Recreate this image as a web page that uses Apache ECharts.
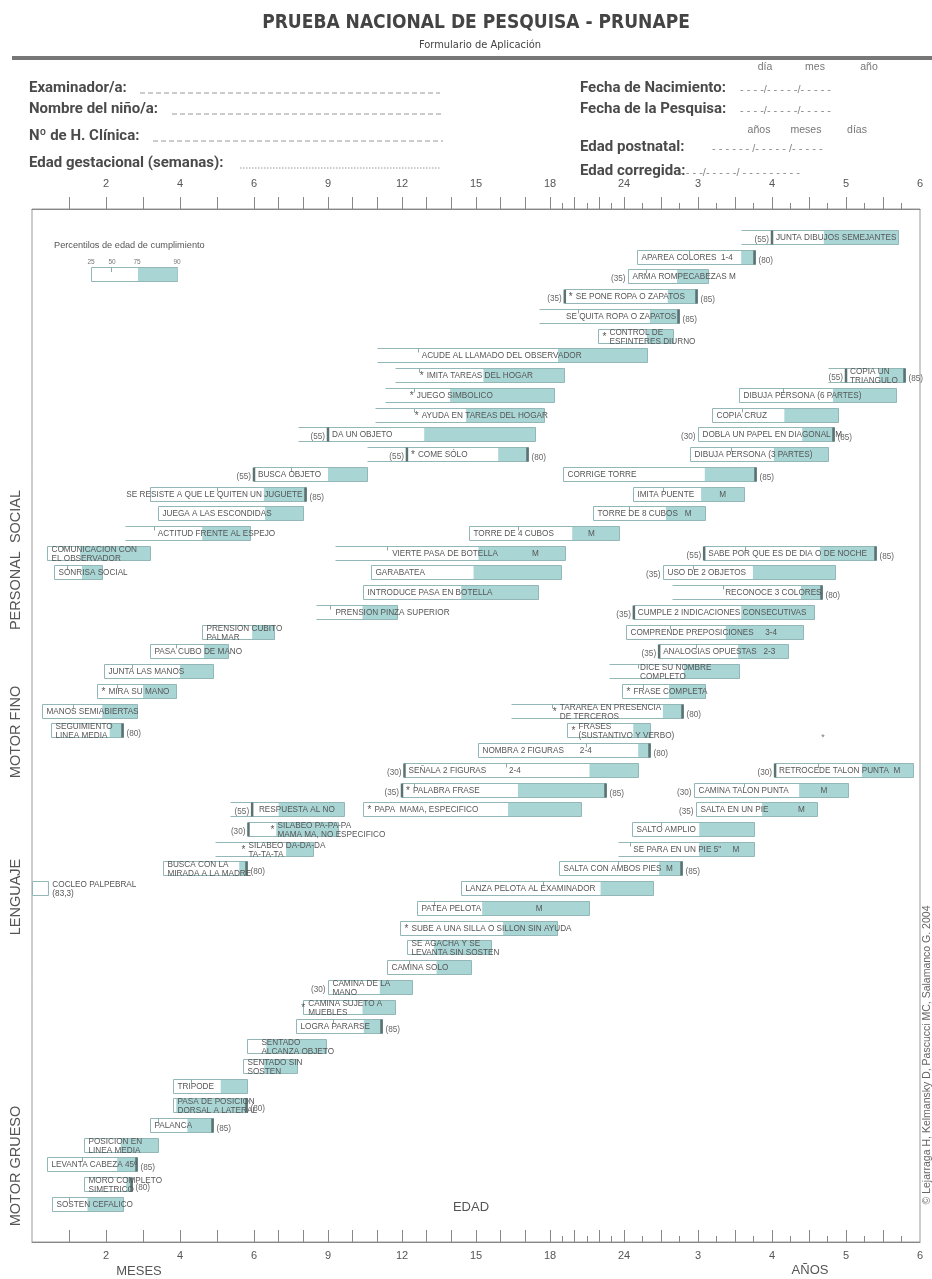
<!DOCTYPE html>
<html><head><meta charset="utf-8">
<script src="https://cdn.jsdelivr.net/npm/echarts@6/dist/echarts.min.js"></script>
<style>html,body{margin:0;padding:0;background:#fff}#c{width:932px;height:1279px}</style>
</head><body><div id="c"></div>
<script>
// ---------- axis data ----------
const axisLabels = ['', '2', '4', '6', '9', '12', '15', '18', '24', '3', '4', '5', '6'];
const longTickMonths = [1,2,3,4,5,6,7,8,9,10,11,12,13,14,15,16,17,18,20,22,24,30,36,42,48,54,60,66];
const shortTickMonths = [19,21,23,27,33,39,45,51,57,63,69];

// ---------- items: [label, row, start, openLeft, markAge, p50, p75, p90, leftNote, rightNote, textAge] (ages in months) ----------
const personalSocial = [
  ['* SE PONE ROPA O ZAPATOS', 3, 19.2, 0, 19.2, null, 31.1, 35.8, '(35)', '(85)', null],
  ['SE QUITA ROPA O ZAPATOS', 4, 17.55, 1, null, 20.3, 28.2, 32.9, '', '(85)', 19.3],
  ['* CONTROL DE\nESFINTERES DIURNO', 5, 21.9, 0, null, null, 27.7, 31.9, '', '', null],
  ['ACUDE AL LLAMADO DEL OBSERVADOR', 6, 11.0, 1, null, 12.65, 18.65, 27.7, '', '', 12.8],
  ['* IMITA TAREAS DEL HOGAR', 7, 11.7, 1, null, 12.7, 15.3, 19.1, '', '', 13.0],
  ['* JUEGO SIMBOLICO', 8, 11.3, 1, null, 12.5, 13.95, 18.3, '', '', 12.6],
  ['* AYUDA EN TAREAS DEL HOGAR', 9, 10.9, 1, null, 12.5, 14.6, 17.75, '', '', 12.8],
  ['DA UN OBJETO', 10, 7.8, 1, 9.0, null, 12.9, 17.4, '(55)', '', null],
  ['* COME SÓLO', 11, 10.6, 1, 12.2, null, 15.9, 17.1, '(55)', '(80)', null],
  ['BUSCA OBJETO', 12, 6.0, 0, 6.0, 7.5, 9.0, 10.6, '(55)', '', null],
  ['SE RESISTE A QUE LE QUITEN UN JUGUETE', 13, 3.2, 0, null, 5.0, 6.4, 8.1, '', '(85)', 2.55],
  ['JUEGA A LAS ESCONDIDAS', 14, 3.4, 0, null, null, 6.45, 8.0, '', '', null],
  ['ACTITUD FRENTE AL ESPEJO', 15, 2.5, 1, null, 3.3, 4.6, 5.9, '', '', 3.4],
  ['COMUNICACION CON\nEL OBSERVADOR', 16, 0.4, 0, null, 0.85, 1.3, 3.2, '', '', null],
  ['SONRISA SOCIAL', 17, 0.6, 0, null, 0.95, 1.35, 1.9, '', '', null]
];
const motorFino = [
  ['JUNTA DIBUJOS SEMEJANTES', 0, 43.0, 1, 48.0, null, 56.4, 68.4, '(55)', '', null],
  ['APAREA COLORES  1-4', 1, 26.1, 0, null, 34.5, 43.0, 45.2, '', '(80)', null],
  ['ARMA ROMPECABEZAS M', 2, 24.6, 0, null, 27.6, 32.6, 37.6, '(35)', '', null],
  ['COPIA UN\nTRIANGULO', 7, 57.1, 1, 60.0, null, 65.4, 69.6, '(55)', '(85)', null],
  ['DIBUJA PERSONA (6 PARTES)', 8, 42.6, 0, null, 49.8, 57.9, 68.1, '', '', null],
  ['COPIA CRUZ', 9, 38.3, 0, null, 43.1, 50.0, 58.7, '', '', null],
  ['DOBLA UN PAPEL EN DIAGONAL  M', 10, 36.0, 0, null, null, 52.9, 58.1, '(30)', '(85)', null],
  ['DIBUJA PERSONA (3 PARTES)', 11, 34.7, 0, null, 41.4, 48.3, 57.1, '', '', null],
  ['CORRIGE TORRE', 12, 19.05, 0, null, null, 37.1, 45.4, '', '(85)', null],
  ['IMITA PUENTE           M', 13, 25.5, 0, null, 30.3, 36.5, 43.5, '', '', null],
  ['TORRE DE 8 CUBOS   M', 14, 21.5, 0, null, 24.8, 30.8, 37.1, '', '', null],
  ['TORRE DE 4 CUBOS               M', 15, 14.7, 0, null, 16.7, 19.8, 23.6, '', '', null],
  ['VIERTE PASA DE BOTELLA               M', 16, 9.3, 1, null, 11.4, 15.1, 19.2, '', '', 11.6],
  ['GARABATEA', 17, 10.75, 0, null, null, 14.9, 18.9, '', '', null],
  ['INTRODUCE PASA EN BOTELLA', 18, 10.4, 0, null, null, 14.4, 17.5, '', '', null],
  ['PRENSION PINZA SUPERIOR', 19, 8.5, 1, null, 9.1, 10.4, 11.8, '', '', 9.3],
  ['PRENSION CUBITO\nPALMAR', 20, 4.6, 0, null, null, 5.95, 6.8, '', '', null],
  ['PASA CUBO DE MANO', 21, 3.2, 0, null, 3.9, 4.65, 5.3, '', '', null],
  ['JUNTA LAS MANOS', 22, 1.95, 0, null, 2.7, 4.0, 4.9, '', '', null],
  ['* MIRA SU MANO', 23, 1.75, 0, null, 2.3, 3.0, 3.9, '', '', null],
  ['MANOS SEMIABIERTAS', 24, 0.27, 0, null, 1.1, 1.9, 2.85, '', '', null],
  ['SEGUIMIENTO\nLINEA MEDIA', 25, 0.5, 0, null, null, 2.1, 2.45, '', '(80)', null]
];
const lenguaje = [
  ['SABE POR QUE ES DE DIA O DE NOCHE', 16, 37.0, 0, 37.0, 43.6, 55.8, 64.9, '(55)', '(85)', null],
  ['USO DE 2 OBJETOS', 17, 30.3, 0, null, 35.2, 44.9, 58.2, '(35)', '', null],
  ['RECONOCE 3 COLORES', 18, 31.8, 1, null, 40.1, 52.7, 56.1, '', '(80)', 40.4],
  ['CUMPLE 2 INDICACIONES CONSECUTIVAS', 19, 25.6, 0, 25.6, null, 43.0, 54.8, '(35)', '', null],
  ['COMPRENDE PREPOSICIONES     3-4', 20, 24.3, 0, null, 31.5, 40.5, 53.0, '', '', null],
  ['ANALOGIAS OPUESTAS   2-3', 21, 29.7, 0, 29.7, 35.7, 42.5, 50.6, '(35)', '', null],
  ['DICE SU NOMBRE\nCOMPLETO', 22, 22.8, 1, null, 26.3, 33.7, 42.65, '', '', 26.6],
  ['* FRASE COMPLETA', 23, 23.8, 0, null, 27.1, 31.3, 37.1, '', '', null],
  ['* TARAREA EN PRESENCIA\nDE TERCEROS', 24, 16.4, 1, null, 18.2, 30.3, 33.6, '', '(80)', 18.8],
  ['* FRASES\n(SUSTANTIVO Y VERBO)', 25, 19.4, 0, null, null, 25.5, 28.2, '', '', null],
  ['NOMBRA 2 FIGURAS       2-4', 26, 15.1, 0, null, 20.9, 26.3, 28.2, '', '(80)', null],
  ['SEÑALA 2 FIGURAS          2-4', 27, 12.1, 0, 12.1, 16.2, 21.2, 26.3, '(30)', '', null],
  ['* PALABRA FRASE', 28, 12.0, 0, 12.0, 12.5, 16.7, 22.5, '(35)', '(85)', null],
  ['* PAPA  MAMA, ESPECIFICO', 29, 10.4, 0, null, null, 16.3, 20.5, '', '', null],
  ['RESPUESTA AL NO', 29, 5.35, 1, 5.95, null, 7.0, 9.65, '(55)', '', 6.2],
  ['* SILABEO PA-PA-PA\nMAMA MA, NO ESPECIFICO', 30, 5.85, 0, 5.85, null, 6.9, 9.4, '(30)', '', 6.95],
  ['* SILABEO DA-DA-DA\nTA-TA-TA', 31, 4.95, 1, null, null, 7.3, 8.4, '', '', 5.85],
  ['BUSCA CON LA\nMIRADA A LA MADRE', 32, 3.55, 0, null, null, 5.6, 5.8, '', '(80)', null],
  ['COCLEO PALPEBRAL\n(83,3)', 33, 0.0, 0, null, null, 0.43, 0.43, '', '', 0.55]
];
const motorGrueso = [
  ['RETROCEDE TALON PUNTA  M', 27, 48.5, 0, 48.5, 55.5, 62.6, 70.9, '(30)', '', null],
  ['CAMINA TALON PUNTA              M', 28, 35.4, 0, null, 43.5, 52.4, 60.3, '(30)', '', null],
  ['SALTA EN UN PIE             M', 29, 35.7, 0, null, null, 46.4, 55.3, '(35)', '', null],
  ['SALTO AMPLIO', 30, 25.3, 0, null, 30.0, 36.2, 45.0, '', '', null],
  ['SE PARA EN UN PIE 5"     M', 31, 23.5, 1, null, 25.0, 36.2, 45.0, '', '', 25.5],
  ['SALTA CON AMBOS PIES  M', 32, 18.7, 0, null, 23.5, 29.7, 33.4, '', '(85)', null],
  ['LANZA PELOTA AL EXAMINADOR', 33, 14.4, 0, null, 17.7, 22.1, 28.7, '', '', null],
  ['PATEA PELOTA                        M', 34, 12.6, 0, null, 13.3, 15.25, 21.2, '', '', null],
  ['* SUBE A UNA SILLA O SILLON SIN AYUDA', 35, 11.9, 0, null, null, 16.1, 18.6, '', '', null],
  ['SE AGACHA Y SE\nLEVANTA SIN SOSTEN', 36, 12.2, 0, null, null, 13.3, 15.6, '', '', null],
  ['CAMINA SOLO', 37, 11.4, 0, null, 12.3, 13.4, 14.8, '', '', null],
  ['CAMINA DE LA\nMANO', 38, 9.0, 0, null, null, 11.1, 12.4, '(30)', '', null],
  ['* CAMINA SUJETO A\nMUEBLES', 39, 8.0, 0, null, null, 10.4, 11.7, '', '', 8.2],
  ['LOGRA PARARSE', 40, 7.7, 0, null, 9.2, 10.45, 11.2, '', '(85)', null],
  ['SENTADO\nALCANZA OBJETO', 41, 5.8, 0, null, null, 6.5, 8.9, '', '', 6.3],
  ['SENTADO SIN\nSOSTEN', 42, 5.7, 0, null, null, 6.4, 7.75, '', '', null],
  ['TRIPODE', 43, 3.8, 0, null, 4.3, 5.1, 5.8, '', '', null],
  ['PASA DE POSICION\nDORSAL A LATERAL', 44, 3.8, 0, null, null, 3.9, 5.8, '', '(80)', null],
  ['PALANCA', 45, 3.2, 0, null, 3.4, 4.2, 4.9, '', '(85)', null],
  ['POSICION EN\nLINEA MEDIA', 46, 1.4, 0, null, null, 2.4, 3.4, '', '', null],
  ['LEVANTA CABEZA 45º', 47, 0.4, 0, null, 1.35, 2.3, 2.85, '', '(85)', null],
  ['MORO COMPLETO\nSIMETRICO', 48, 1.4, 0, null, null, 2.55, 2.7, '', '(80)', null],
  ['SOSTEN CEFALICO', 49, 0.55, 0, null, 1.0, 1.5, 2.45, '', '', null]
];
const areaNames = ['PERSONAL  SOCIAL', 'MOTOR FINO', 'LENGUAJE', 'MOTOR GRUESO'];
const legendPercentiles = ['25', '50', '75', '90'];

// ---------- helpers ----------
function toUnit(m) {
  if (m <= 6) return m / 2;
  if (m <= 18) return 3 + (m - 6) / 3;
  if (m <= 24) return 7 + (m - 18) / 6;
  return 8 + (m - 24) / 12;
}
const items = [].concat(personalSocial, motorFino, lenguaje, motorGrueso);
const TEAL = '#a9d6d5', EDGE = '#93b7b7', TXT = '#555', MARK = '#5b7272';
const FONT = "'Liberation Sans', Arial, sans-serif";

function seg(x1, y1, x2, y2, w, c) {
  return { type: 'line', shape: { x1, y1, x2, y2 }, style: { stroke: c || EDGE, lineWidth: w || 1 } };
}
function txt(t, x, y, o) {
  return { type: 'text', style: Object.assign({
    text: t, x, y, fill: TXT, fontSize: 8.2, fontFamily: FONT,
    align: 'left', textAlign: 'left', verticalAlign: 'middle', textVerticalAlign: 'middle', lineHeight: 8.6
  }, o || {}) };
}

function renderItem(params, api) {
  const it = items[api.value(2)];
  const [label, row, start, open, mark, p50, p75, p90, lnote, rnote, textAge] = it;
  const P = m => api.coord([toUnit(m), row]);
  const y = Math.round(P(start)[1]) + 0.5;
  const h = 14, top = y - 7, bot = y + 7;
  const x0 = Math.round(P(start)[0]) + 0.5, x75 = P(p75)[0], x90 = Math.round(P(p90)[0]) + 0.5;
  const ch = [];
  ch.push({ type: 'rect', shape: { x: x0, y: top, width: x90 - x0, height: h }, style: { fill: '#fff' } });
  if (x90 - x75 > 0.5) ch.push({ type: 'rect', shape: { x: x75, y: top, width: x90 - x75, height: h }, style: { fill: TEAL } });
  ch.push(seg(x0, top, x90, top), seg(x0, bot, x90, bot), seg(x90, top, x90, bot));
  if (!open) ch.push(seg(x0, top, x0, bot));
  if (p50 != null) { const xp = Math.round(P(p50)[0]) + 0.5; ch.push(seg(xp, top, xp, top + 4, 1, '#8aa')); }
  let xm = null;
  if (mark != null) { xm = P(mark)[0]; ch.push(seg(xm, top, xm, bot, 2.5, MARK)); }
  if (rnote) ch.push(seg(x90 - 1, top, x90 - 1, bot, 2.5, MARK));
  if (lnote) ch.push(txt(lnote, (xm != null ? xm : x0) - 3, y + 2, { align: 'right', textAlign: 'right', fill: '#666' }));
  if (rnote) ch.push(txt(rnote, x90 + 3, y + 3, { fill: '#666' }));
  let t = label, star = false;
  if (t.indexOf('* ') === 0) { star = true; t = t.slice(2); }
  let tx;
  if (textAge != null) tx = P(textAge)[0];
  else tx = (xm != null ? xm + 4 : x0 + 4) + (star ? 7 : 0);
  if (star) ch.push(txt('*', tx - 7, y + 1, { fontSize: 10 }));
  ch.push(txt(t, tx, y + 0.5));
  return { type: 'group', children: ch };
}

const tickUnitsLong = longTickMonths.map(toUnit);
const tickUnitsShort = shortTickMonths.map(toUnit);
const labelUnits = axisLabels.map((_, i) => i).filter(i => axisLabels[i] !== '');

function xAx(pos, long, showLabels, len, inside) {
  return {
    type: 'value', position: pos, min: 0, max: 12, interval: 1, gridIndex: 0,
    axisLine: { show: long, onZero: false, lineStyle: { color: '#888', width: 1 } },
    splitLine: { show: false },
    axisTick: { show: true, inside: inside, length: len, customValues: long ? tickUnitsLong : tickUnitsShort,
      lineStyle: { color: '#888', width: 1 } },
    axisLabel: { show: showLabels, customValues: labelUnits, color: '#555', fontSize: 11, fontFamily: FONT,
      margin: pos === 'top' ? 20 : 8, formatter: v => axisLabels[Math.round(v)] || '' }
  };
}

const G = [];
const gtext = (t, x, y, st, extra) => G.push(Object.assign({ type: 'text', x, y, style: Object.assign({
  text: t, fill: '#4a4a4a', fontFamily: FONT, fontSize: 12, textAlign: 'left', textVerticalAlign: 'middle',
  align: 'left', verticalAlign: 'middle' }, st) }, extra || {}));
const gline = (x1, y1, x2, y2, st) => G.push({ type: 'line', shape: { x1, y1, x2, y2 }, style: Object.assign({ stroke: '#999', lineWidth: 1 }, st) });

// header
gtext('PRUEBA NACIONAL DE PESQUISA - PRUNAPE', 476, 23, { fontFamily: "'DejaVu Sans Condensed', 'DejaVu Sans', sans-serif", fontWeight: 'bold', fontSize: 19, fill: '#444', textAlign: 'center', align: 'center' });
gtext('Formulario de Aplicación', 480, 45, { fontFamily: "'DejaVu Sans Condensed', 'DejaVu Sans', sans-serif", fontSize: 11, fill: '#444', textAlign: 'center', align: 'center' });
G.push({ type: 'rect', shape: { x: 12, y: 56, width: 920, height: 4 }, style: { fill: '#777' } });
const FB = { fontFamily: "Roboto, 'Liberation Sans', sans-serif", fontWeight: 'bold', fontSize: 15, fill: '#4a4a4a' };
gtext('Examinador/a:', 29, 88, FB);
gtext('Nombre del niño/a:', 29, 109, FB);
gtext('Nº de H. Clínica:', 29, 136, FB);
gtext('Edad gestacional (semanas):', 29, 163, FB);
gline(140, 93, 440, 93, { lineDash: [5, 3] });
gline(172, 114, 443, 114, { lineDash: [5, 3] });
gline(153, 141, 443, 141, { lineDash: [5, 3] });
gline(240, 168, 440, 168, { lineDash: [1.5, 1.5] });
gtext('Fecha de Nacimiento:', 580, 88, FB);
gtext('Fecha de la Pesquisa:', 580, 109, FB);
gtext('Edad postnatal:', 580, 147, FB);
gtext('Edad corregida:', 580, 171, FB);
const FD = { fontSize: 11, fill: '#888' };
gtext('- - - -/- - - - -/- - - - -', 740, 90, FD);
gtext('- - - -/- - - - -/- - - - -', 740, 111, FD);
gtext('- - - - - - /- - - - - /- - - - -', 712, 149, FD);
gtext('- - - -/- - - - -/ - - - - - - - - -', 679, 173, FD);
const FS = { fontSize: 10.5, fill: '#777', textAlign: 'center', align: 'center' };
gtext('día', 765, 67, FS); gtext('mes', 815, 67, FS); gtext('año', 869, 67, FS);
gtext('años', 759, 130, FS); gtext('meses', 806, 130, FS); gtext('días', 857, 130, FS);

// area names
const areaCenters = [560, 732, 897, 1166];
areaNames.forEach((n, i) => gtext(n, 16, areaCenters[i], { fontSize: 14.5, fill: '#555', textAlign: 'center', align: 'center' }, { rotation: Math.PI / 2 }));

// legend
gtext('Percentilos de edad de cumplimiento', 54, 245, { fontSize: 9.2, fill: '#555' });
G.push({ type: 'rect', shape: { x: 91.5, y: 267.5, width: 86, height: 14 }, style: { fill: '#fff', stroke: EDGE, lineWidth: 1 } });
G.push({ type: 'rect', shape: { x: 138, y: 268, width: 39.5, height: 13 }, style: { fill: TEAL } });
gline(111.5, 268, 111.5, 272, { stroke: '#8aa' });
[91, 112, 137, 177].forEach((x, i) => gtext(legendPercentiles[i], x, 262, { fontSize: 6.5, fill: '#777', textAlign: 'center', align: 'center' }));

// axis names
gtext('MESES', 139, 1271, { fontSize: 13, fill: '#555', textAlign: 'center', align: 'center' });
gtext('AÑOS', 810, 1270, { fontSize: 13, fill: '#555', textAlign: 'center', align: 'center' });
gtext('EDAD', 471, 1207, { fontSize: 13, fill: '#555', textAlign: 'center', align: 'center' });
gtext('*', 823, 738, { fontSize: 9, fill: '#777', textAlign: 'center', align: 'center' });
gtext('© Lejarraga H, Kelmansky D, Pascucci MC, Salamanco G. 2004', 927, 1055, { fontSize: 10.5, fill: '#666', textAlign: 'center', align: 'center' }, { rotation: Math.PI / 2 });

const chart = echarts.init(document.getElementById('c'), null, { renderer: 'canvas' });
chart.setOption({
  animation: false,
  backgroundColor: '#fff',
  grid: { left: 32, right: 12, top: 209, bottom: 37, show: true, borderColor: '#999', borderWidth: 1, backgroundColor: 'transparent' },
  xAxis: [
    xAx('bottom', true, true, 12, true),
    xAx('bottom', false, false, 6, true),
    xAx('top', true, true, 12, false),
    xAx('top', false, false, 6, false)
  ],
  yAxis: { type: 'value', inverse: true, min: -1.42, max: 50.93, show: false },
  series: [{
    type: 'custom',
    renderItem: renderItem,
    clip: false,
    encode: { x: 0, y: 1 },
    data: items.map((it, i) => [toUnit(it[2]), it[1], i])
  }],
  graphic: G
});
</script></body></html>
